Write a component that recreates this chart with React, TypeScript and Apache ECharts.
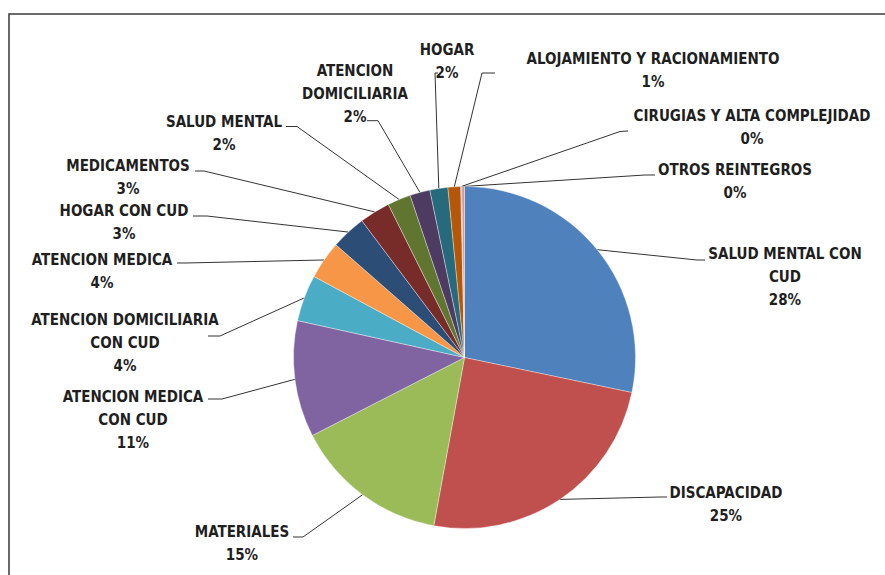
import React, { useEffect, useRef } from "react";
import * as echarts from "echarts";

const categories = [
  "SALUD MENTAL CON CUD",
  "DISCAPACIDAD",
  "MATERIALES",
  "ATENCION MEDICA CON CUD",
  "ATENCION DOMICILIARIA CON CUD",
  "ATENCION MEDICA",
  "HOGAR CON CUD",
  "MEDICAMENTOS",
  "SALUD MENTAL",
  "ATENCION DOMICILIARIA",
  "HOGAR",
  "ALOJAMIENTO Y RACIONAMIENTO",
  "CIRUGIAS Y ALTA COMPLEJIDAD",
  "OTROS REINTEGROS",
];

const values = [28.3, 24.6, 14.6, 11.0, 4.4, 3.6, 3.3, 2.9, 2.2, 1.9, 1.7, 1.2, 0.1, 0.25];

const colors = [
  "#4F81BD", "#C0504D", "#9BBB59", "#8064A2", "#4BACC6", "#F79646",
  "#2C4D75", "#772C2A", "#5F7530", "#4D3B62", "#276A7C", "#B65708",
  "#95B3D7", "#D99694",
];

// how the label texts wrap in the picture
const labelText: Record<string, string> = {
  "SALUD MENTAL CON CUD": "SALUD MENTAL CON\nCUD",
  "ATENCION MEDICA CON CUD": "ATENCION MEDICA\nCON CUD",
  "ATENCION DOMICILIARIA CON CUD": "ATENCION DOMICILIARIA\nCON CUD",
  "ATENCION DOMICILIARIA": "ATENCION\nDOMICILIARIA",
};

// label placement: [text centre x, first line centre y, elbow x, elbow y, end x, end y]
const labelPlacement: number[][] = [
  [785, 254, 697, 260, 705, 260],
  [726, 493, 660, 497, 667, 497],
  [242, 532, 303, 537, 293, 537],
  [133, 397, 222, 399, 208, 399],
  [125, 319.5, 220, 336, 208, 336],
  [102, 259.5, 185, 263, 177, 263],
  [124, 211, 207, 216, 193, 216],
  [128, 166, 204, 171, 195, 171],
  [224, 121.5, 297, 126.5, 286, 126.5],
  [355, 70.5, 378, 120.7, 367, 120.7],
  [447, 49.5, 435, 73, 438, 73],
  [653, 58.5, 482, 73, 495, 73],
  [752, 116, 620, 131.5, 628, 131],
  [735, 170, 645, 175, 655, 175],
];

const CX = 464.5;
const CY = 357.5;
const R = 171;
const LINE_H = 23;

export default function App() {
  const ref = useRef<HTMLDivElement>(null);

  useEffect(() => {
    if (!ref.current) return;
    const chart = echarts.init(ref.current, undefined, { renderer: "svg" });
    const total = values.reduce((a, b) => a + b, 0);
    const cum: number[] = [];
    let acc = 0;
    values.forEach((v) => {
      cum.push(acc);
      acc += v;
    });
    const midAngle = (i: number) => ((cum[i] + values[i] / 2) / total) * Math.PI * 2;

    chart.setOption({
      animation: false,
      backgroundColor: "#ffffff",
      graphic: [
        {
          type: "rect",
          silent: true,
          shape: { x: 9, y: 14, width: 900, height: 600 },
          style: { fill: "none", stroke: "#3a3a3a", lineWidth: 1.5 },
        },
      ],
      series: [
        {
          type: "pie",
          center: [CX, CY],
          radius: R,
          startAngle: 90,
          clockwise: true,
          avoidLabelOverlap: false,
          minAngle: 0,
          data: categories.map((name, i) => ({
            name,
            value: values[i],
            itemStyle: { color: colors[i] },
          })),
          itemStyle: { borderColor: "rgba(255,255,255,0.6)", borderWidth: 0.6 },
          emphasis: { disabled: true },
          label: {
            show: true,
            position: "outside",
            formatter: (p: any) => {
              const t = labelText[p.name] || p.name;
              return t + "\n" + Math.round((p.value / total) * 100) + "%";
            },
            fontFamily: "'Liberation Sans Narrow', 'DejaVu Sans Condensed', sans-serif",
            fontWeight: "bold",
            fontSize: 15,
            lineHeight: LINE_H,
            color: "#1f1f1f",
            align: "center",
          },
          labelLine: {
            show: true,
            smooth: false,
            lineStyle: { color: "#333333", width: 1 },
          },
          labelLayout: (params: any) => {
            const i = params.dataIndex;
            const p = labelPlacement[i];
            const th = midAngle(i);
            const ex = CX + R * Math.sin(th);
            const ey = CY - R * Math.cos(th);
            return {
              x: p[0],
              y: p[1] - LINE_H / 2,
              align: "center",
              verticalAlign: "top",
              labelLinePoints: [
                [ex, ey],
                [p[2], p[3]],
                [p[4], p[5]],
              ],
            };
          },
        },
      ],
    });
    return () => chart.dispose();
  }, []);

  return (
    <div
      ref={ref}
      style={{ position: "fixed", left: 0, top: 0, width: 885, height: 575 }}
    />
  );
}
